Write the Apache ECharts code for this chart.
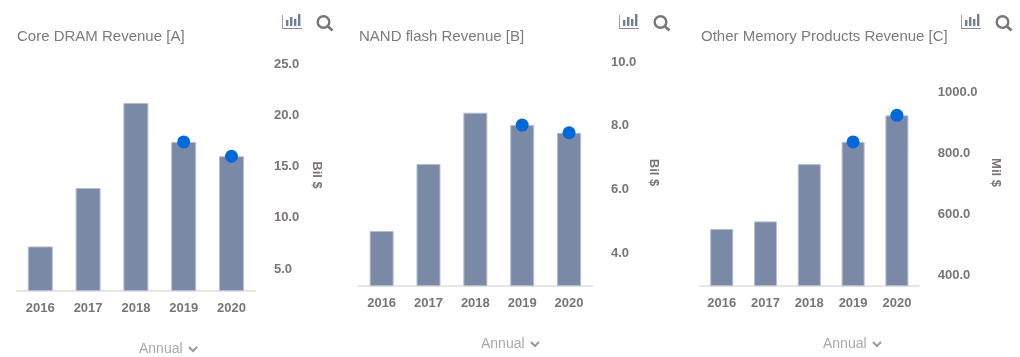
<!DOCTYPE html>
<html>
<head>
<meta charset="utf-8">
<style>
html, body { margin: 0; padding: 0; background: #fff; }
#main { width: 1020px; height: 357px; }
</style>
<script src="https://cdn.jsdelivr.net/npm/echarts@6/dist/echarts.min.js"></script>
</head>
<body>
<div id="main"></div>
<script>
var years = ['2016', '2017', '2018', '2019', '2020'];

var dramValues = [7.2, 12.9, 21.2, 17.4, 16.0];
var nandValues = [4.69, 6.8, 8.41, 8.02, 7.78];
var otherValues = [551, 576, 764, 837, 924];

// the dots only sit on the two last years
var dramDots = [null, null, null, 17.4, 16.0];
var nandDots = [null, null, null, 8.02, 7.78];
var otherDots = [null, null, null, 837, 924];

var dramTicks = [5, 10, 15, 20, 25];
var nandTicks = [4, 6, 8, 10];
var otherTicks = [400, 600, 800, 1000];

var titles = ['Core DRAM Revenue [A]', 'NAND flash Revenue [B]', 'Other Memory Products Revenue [C]'];
var units = ['Bil $', 'Bil $', 'Mil $'];

var textFont = '"Liberation Sans", Arial, sans-serif';

var panels = [
    {left: 16.4, right: 255.4, top: 59.5, bottom: 290.5, min: 2.9, max: 25.44, ticks: dramTicks, values: dramValues, dots: dramDots, barWidth: 25, nameGap: 54.5, margin: 18.5, titleX: 17, iconX: 282, annualX: 139, annualY: 348},
    {left: 358.2, right: 592.5, top: 59.3, bottom: 285.7, min: 2.97, max: 10.09, ticks: nandTicks, values: nandValues, dots: nandDots, barWidth: 24, nameGap: 54.5, margin: 18.5, titleX: 359, iconX: 619, annualX: 481, annualY: 343},
    {left: 699.8, right: 918.8, top: 59.3, bottom: 285.7, min: 365, max: 1108, ticks: otherTicks, values: otherValues, dots: otherDots, barWidth: 23, nameGap: 70.5, margin: 19, titleX: 701, iconX: 961, annualX: 823, annualY: 343}
];

var option = {
    animation: false,
    backgroundColor: '#fff',
    title: [],
    grid: [],
    xAxis: [],
    yAxis: [],
    series: [],
    graphic: []
};

function addIcons(x) {
    var iconColor = '#6f7f95';
    var barHeights = [6, 9, 7, 12];
    // little bar chart button
    option.graphic.push({type: 'line', shape: {x1: x + 0.5, y1: 15, x2: x + 0.5, y2: 28}, style: {stroke: '#a79ab5', lineWidth: 1}});
    option.graphic.push({type: 'line', shape: {x1: x, y1: 28.5, x2: x + 20, y2: 28.5}, style: {stroke: '#8f8a9a', lineWidth: 1}});
    for (var i = 0; i < barHeights.length; i++) {
        option.graphic.push({type: 'rect', shape: {x: x + 4 + i * 4, y: 26 - barHeights[i], width: 2.4, height: barHeights[i]}, style: {fill: iconColor}});
    }
    // magnifier
    option.graphic.push({type: 'circle', shape: {cx: x + 41.5, cy: 22, r: 5.8}, style: {fill: 'none', stroke: '#777', lineWidth: 2.4}});
    option.graphic.push({type: 'line', shape: {x1: x + 46, y1: 26.5, x2: x + 50.5, y2: 30.5}, style: {stroke: '#777', lineWidth: 2.8}});
}

function addAnnual(x, y) {
    option.graphic.push({type: 'text', style: {x: x, y: y + 1, text: 'Annual', font: '14px ' + textFont, fill: '#a9a9a9', verticalAlign: 'middle'}});
    option.graphic.push({type: 'polyline', shape: {points: [[x + 50, y - 1], [x + 54, y + 3], [x + 58, y - 1]]}, style: {fill: 'none', stroke: '#999', lineWidth: 2}});
}

panels.forEach(function (p, i) {
    option.title.push({
        text: titles[i],
        left: p.titleX,
        top: 29,
        padding: 0,
        textStyle: {fontFamily: textFont, fontSize: 15, fontWeight: 'normal', color: '#7b7b7b'}
    });
    option.grid.push({left: p.left, width: p.right - p.left, top: p.top, height: p.bottom - p.top, containLabel: false});
    option.xAxis.push({
        type: 'category',
        gridIndex: i,
        data: years,
        axisLine: {lineStyle: {color: '#e6e6e6', width: 2}},
        axisTick: {show: false},
        axisLabel: {margin: 11.5, fontFamily: textFont, fontSize: 13, fontWeight: 'bold', color: '#7a7574'}
    });
    option.yAxis.push({
        type: 'value',
        gridIndex: i,
        position: 'right',
        min: p.min,
        max: p.max,
        name: units[i],
        nameLocation: 'middle',
        nameRotate: -90,
        nameGap: p.nameGap,
        nameTextStyle: {fontFamily: textFont, fontSize: 13, fontWeight: 'bold', color: '#7a7574'},
        axisLine: {show: false},
        axisTick: {show: false},
        splitLine: {show: false},
        axisLabel: {
            customValues: p.ticks,
            margin: p.margin,
            align: 'left',
            fontFamily: textFont,
            fontSize: 13,
            fontWeight: 'bold',
            color: '#7a7574',
            formatter: function (v) { return v.toFixed(1); }
        }
    });
    option.series.push({
        type: 'bar',
        xAxisIndex: i,
        yAxisIndex: i,
        data: p.values,
        barWidth: p.barWidth,
        itemStyle: {color: '#7a89a6', borderColor: '#b4bed0', borderWidth: 1}
    });
    option.series.push({
        type: 'line',
        xAxisIndex: i,
        yAxisIndex: i,
        data: p.dots,
        symbol: 'circle',
        symbolSize: 13,
        showSymbol: true,
        lineStyle: {width: 0},
        itemStyle: {color: '#0069d9'}
    });
    addIcons(p.iconX);
    addAnnual(p.annualX, p.annualY);
});

var chart = echarts.init(document.getElementById('main'));
chart.setOption(option);
</script>
</body>
</html>
